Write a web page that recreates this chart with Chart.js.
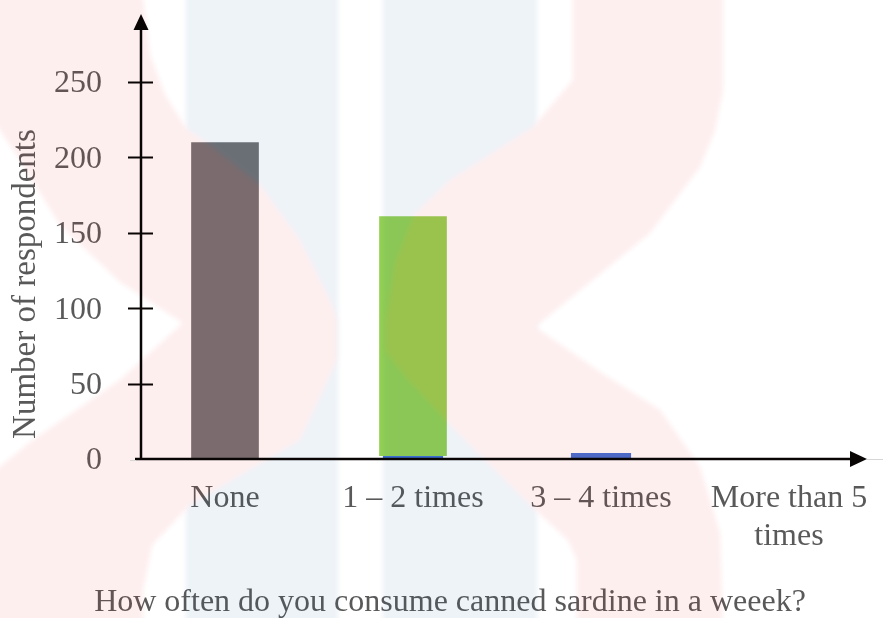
<!DOCTYPE html>
<html>
<head>
<meta charset="utf-8">
<script src="https://cdn.jsdelivr.net/npm/chart.js@4.4.1/dist/chart.umd.min.js"></script>
<style>
  html, body { margin: 0; padding: 0; background: #ffffff; }
  #wrap { width: 883px; height: 618px; }
</style>
</head>
<body>
<div id="wrap"><canvas id="chart" width="883" height="618"></canvas></div>
<script>
// Survey answers: weekly canned sardine consumption
const categories = ['None', '1 – 2 times', '3 – 4 times', ['More than 5', 'times']];
const countsMain = [210, 159, 0, 0];
const countsBlue = [0, 2, 4, 0];
const mainColors = ['#727274', '#94d152', '#94d152', '#94d152'];
const yTickValues = [50, 100, 150, 200, 250];
const yAxisTitle = 'Number of respondents';
const xAxisTitle = 'How often do you consume canned sardine in a weeek?';

const FONT = "'Liberation Serif', 'Times New Roman', serif";
const TEXT = '#595959';

// faint logo drawn across the whole figure
function buildBackdrop(w, h) {
  const off = document.createElement('canvas');
  off.width = w; off.height = h;
  const c = off.getContext('2d');
  c.filter = 'blur(2.5px)';
  c.fillStyle = 'rgb(15,86,156)';
  c.fillRect(186, -10, 152, h + 20);
  c.fillRect(383, -10, 154, h + 20);
  c.fillStyle = 'rgb(237,28,36)';
  const poly = pts => { c.beginPath(); pts.forEach((p, i) => i ? c.lineTo(p[0], p[1]) : c.moveTo(p[0], p[1])); c.closePath(); c.fill(); };
  // left chevron
  poly([[-10,-10],[142,-10],[150,55],[165,95],[186,128],[207,143],[260,185],[300,240],[330,300],[337,318],[337,360],[300,440],[190,505],[152,545],[143,590],[143,630],
        [-10,630],[-10,475],[33,440],[120,380],[183,323],[120,282],[60,225],[20,160],[-10,115]]);
  // right chevron
  poly([[573,-10],[723,-10],[723,90],[715,130],[700,167],[650,233],[535,327],[600,372],[660,410],[700,467],[720,533],[723,630],
        [577,630],[577,560],[568,540],[530,505],[445,420],[408,380],[386,352],[386,320],[395,262],[413,216],[450,180],[533,127],[573,80]]);
  return off;
}

const decor = {
  id: 'decor',
  afterDatasetsDraw(chart) {
    const ctx = chart.ctx;
    ctx.save();
    ctx.fillStyle = TEXT;
    ctx.textAlign = 'center';
    ctx.textBaseline = 'alphabetic';
    ctx.font = '32px ' + FONT;
    ctx.fillText(xAxisTitle, 450, 611);
    ctx.font = '33px ' + FONT;
    ctx.translate(35, 284);
    ctx.rotate(-Math.PI / 2);
    ctx.fillText(yAxisTitle, 0, 0);
    ctx.restore();

    if (!chart.$backdrop) chart.$backdrop = buildBackdrop(chart.width, chart.height);
    ctx.save();
    ctx.globalAlpha = 0.07;
    ctx.drawImage(chart.$backdrop, 0, 0);
    ctx.restore();
  },
  afterDraw(chart) {
    const ctx = chart.ctx;
    const y = chart.scales.y;
    const y0 = y.getPixelForValue(0);
    const ax = 141;
    ctx.save();
    ctx.strokeStyle = '#0a0505';
    ctx.fillStyle = '#0a0505';
    ctx.lineWidth = 2.5;
    // vertical axis with arrow
    ctx.beginPath(); ctx.moveTo(ax, y0 + 1); ctx.lineTo(ax, 28); ctx.stroke();
    ctx.beginPath(); ctx.moveTo(ax, 14); ctx.lineTo(ax - 7.5, 30); ctx.lineTo(ax + 7.5, 30); ctx.closePath(); ctx.fill();
    // cross ticks
    ctx.lineWidth = 2;
    yTickValues.forEach(v => {
      const py = Math.round(y.getPixelForValue(v)) + 0.5;
      ctx.beginPath(); ctx.moveTo(ax - 13, py); ctx.lineTo(ax + 12, py); ctx.stroke();
    });
    // horizontal axis with arrow
    ctx.lineWidth = 2.6;
    ctx.beginPath(); ctx.moveTo(135, y0); ctx.lineTo(853, y0); ctx.stroke();
    ctx.beginPath(); ctx.moveTo(867, y0); ctx.lineTo(850, y0 - 8); ctx.lineTo(850, y0 + 8); ctx.closePath(); ctx.fill();
    ctx.strokeStyle = '#d6d6d6';
    ctx.lineWidth = 1;
    ctx.beginPath(); ctx.moveTo(867, y0 + 0.5); ctx.lineTo(883, y0 + 0.5); ctx.stroke();
    ctx.beginPath(); ctx.moveTo(130, y0 + 1.5); ctx.lineTo(136, y0 + 1.5); ctx.stroke();
    ctx.restore();
  }
};

function noEdgePadding(scale) {
  scale.paddingTop = 0; scale.paddingBottom = 0;
  scale.paddingLeft = 0; scale.paddingRight = 0;
}

new Chart(document.getElementById('chart'), {
  type: 'bar',
  data: {
    labels: categories,
    datasets: [
      { label: 'blue', data: countsBlue, backgroundColor: '#4171d4', barPercentage: 0.32, categoryPercentage: 1, stack: 's' },
      { label: 'main', data: countsMain, backgroundColor: mainColors, barPercentage: 0.36, categoryPercentage: 1, stack: 's' }
    ]
  },
  options: {
    responsive: false,
    animation: false,
    devicePixelRatio: 1,
    layout: { padding: { top: 14, right: 0, left: 0, bottom: 0 } },
    plugins: { legend: { display: false }, tooltip: { enabled: false }, title: { display: false } },
    scales: {
      x: {
        stacked: true,
        grid: { display: false, drawTicks: false },
        border: { display: false },
        ticks: { color: TEXT, font: { family: FONT, size: 32, lineHeight: 1.17 }, padding: 21, maxRotation: 0, autoSkip: false },
        afterFit(scale) { scale.height = 159; noEdgePadding(scale); }
      },
      y: {
        stacked: true,
        min: 0,
        max: 295,
        grid: { display: false, drawTicks: false },
        border: { display: false },
        ticks: {
          stepSize: 50,
          includeBounds: false,
          color: TEXT,
          font: { family: FONT, size: 32 },
          padding: 29,
          labelOffset: 2,
          callback: v => (v % 50 === 0 ? String(v) : '')
        },
        afterFit(scale) { scale.width = 131; noEdgePadding(scale); }
      }
    }
  },
  plugins: [decor]
});
</script>
</body>
</html>
